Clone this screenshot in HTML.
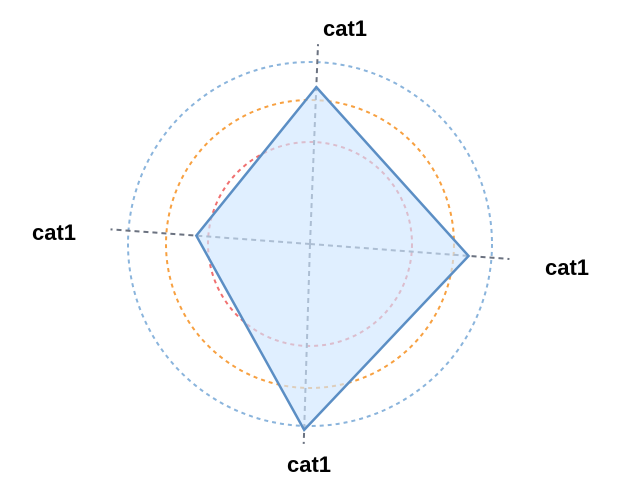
<!DOCTYPE html>
<html><head><meta charset="utf-8"><style>
html,body{margin:0;padding:0;background:#fff;}
svg{display:block;}
text{font-family:"Liberation Sans",sans-serif;font-weight:bold;font-size:22px;fill:#000;}
</style></head><body>
<svg id="chart" width="628" height="482" viewBox="0 0 628 482"></svg>
<script>
const categories = ["cat1","cat1","cat1","cat1"];
const seriesValues = [78.5, 79.5, 93, 57];
const ringValues = [51, 72, 91];
const ringColors = ["#f07070","#f7a040","#8ab4dc"];
const maxValue = 100;

const cx = 310, cy = 244, R = 200;
const axisTilt = [2.3, 4.3, 1.8, 4.2];
const NS = "http://www.w3.org/2000/svg";
const svg = document.getElementById("chart");
function rScale(v){ return v / maxValue * R; }
function angle(i){ return -Math.PI/2 + axisTilt[i]*Math.PI/180 + i * 2*Math.PI/categories.length; }
function pt(i, v){ const a = angle(i), r = rScale(v); return [cx + r*Math.cos(a), cy + r*Math.sin(a)]; }
function mk(tag, attrs){ const e = document.createElementNS(NS, tag); for (const k in attrs) e.setAttribute(k, attrs[k]); svg.appendChild(e); return e; }

ringValues.forEach((v, i) => {
  const c = mk("circle", {cx: cx, cy: cy, r: rScale(v), fill: "none", stroke: ringColors[i], "stroke-width": 2, "stroke-dasharray": "4 4"});
  
  
});
categories.forEach((c, i) => {
  const [x, y] = pt(i, maxValue);
  const l = mk("line", {x1: cx, y1: cy, x2: x, y2: y, stroke: "#6b7280", "stroke-width": 2, "stroke-dasharray": "5 4"});
  
  
});
const pts = seriesValues.map((v, i) => pt(i, v).join(",")).join(" ");
const poly = mk("polygon", {points: pts, fill: "#cfe6ff", "fill-opacity": 0.65, stroke: "#5b8ec4", "stroke-width": 2.5, "stroke-linejoin": "miter"});



const labelPos = [[345,36,"middle"],[567,275,"middle"],[309,472,"middle"],[54,240,"middle"]];
categories.forEach((c, i) => {
  const t = mk("text", {x: labelPos[i][0], y: labelPos[i][1], "text-anchor": labelPos[i][2]});
  t.textContent = c;
  
  
});
</script>
</body></html>
